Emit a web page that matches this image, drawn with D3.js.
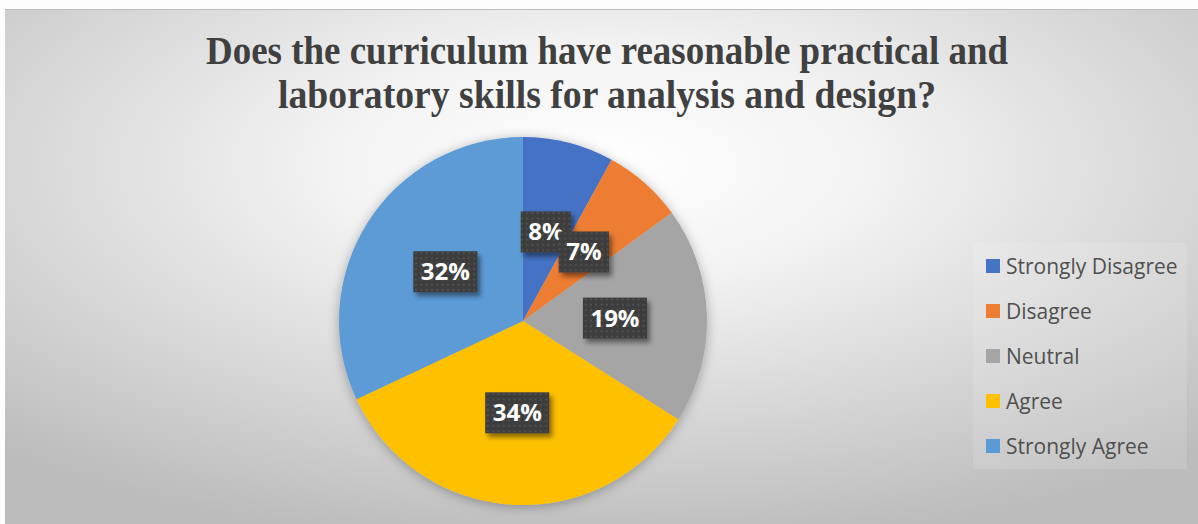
<!DOCTYPE html>
<html>
<head>
<meta charset="utf-8">
<script src="https://cdn.jsdelivr.net/npm/d3@7"></script>
<style>
  html, body { margin: 0; padding: 0; background: #fdfdfd; }
  svg { display: block; }
</style>
</head>
<body>
<svg id="chart" width="1198" height="524"></svg>
<script>
// Survey answers and their shares (percent of respondents)
const categories = ["Strongly Disagree", "Disagree", "Neutral", "Agree", "Strongly Agree"];
const shares = [8, 7, 19, 34, 32];
const sliceColors = ["#4472C4", "#ED7D31", "#A5A5A5", "#FFC000", "#5B9BD5"];
const titleLines = [
  "Does the curriculum have reasonable practical and",
  "laboratory skills for analysis and design?"
];

const W = 1198, H = 524;
const svg = d3.select("#chart");
const defs = svg.append("defs");

// Chart area background: soft radial fade from white to grey
const bg = defs.append("radialGradient")
  .attr("id", "bgGrad")
  .attr("cx", 0.5).attr("cy", 0.3).attr("r", 0.75)
  .attr("fx", 0.5).attr("fy", 0.3);
bg.append("stop").attr("offset", "0").attr("stop-color", "#ffffff");
bg.append("stop").attr("offset", "0.3").attr("stop-color", "#f3f3f3");
bg.append("stop").attr("offset", "1").attr("stop-color", "#bcbcbc");

// Soft halo under the pie
const pieShadow = defs.append("filter").attr("id", "pieShadow")
  .attr("x", "-20%").attr("y", "-20%").attr("width", "140%").attr("height", "140%");
pieShadow.append("feDropShadow")
  .attr("dx", 0).attr("dy", 2).attr("stdDeviation", 6)
  .attr("flood-color", "#000").attr("flood-opacity", 0.3);

// Shadow of the data label boxes
const boxShadow = defs.append("filter").attr("id", "boxShadow")
  .attr("x", "-30%").attr("y", "-30%").attr("width", "170%").attr("height", "170%");
boxShadow.append("feDropShadow")
  .attr("dx", 3).attr("dy", 4).attr("stdDeviation", 2.5)
  .attr("flood-color", "#000").attr("flood-opacity", 0.45);

// Dotted texture of the label boxes
const dots = defs.append("pattern")
  .attr("id", "dots").attr("patternUnits", "userSpaceOnUse")
  .attr("width", 5.3).attr("height", 5.3);
dots.append("rect").attr("width", 5.3).attr("height", 5.3).attr("fill", "#3d3d3d");
dots.append("rect").attr("x", 1.6).attr("y", 1.6).attr("width", 1.8).attr("height", 1.8).attr("fill", "#545454");

// Page strip above the chart frame
svg.append("rect").attr("x", 0).attr("y", 0).attr("width", W).attr("height", 9).attr("fill", "#fdfdfd");
svg.append("rect").attr("x", 5).attr("y", 9).attr("width", W - 5).attr("height", 2).attr("fill", "#bdbdbd");

// Chart area
svg.append("rect")
  .attr("x", 5).attr("y", 10).attr("width", W - 5).attr("height", H - 10)
  .attr("fill", "url(#bgGrad)");

// Title
const title = svg.append("g")
  .attr("font-family", "'Liberation Serif', 'Times New Roman', serif")
  .attr("font-weight", "bold")
  .attr("font-size", 41)
  .attr("fill", "#404040")
  .attr("text-anchor", "middle");
const titleWidths = [802, 658];
title.selectAll("text").data(titleLines).join("text")
  .attr("x", 607)
  .attr("y", (d, i) => 64 + i * 43.5)
  .attr("textLength", (d, i) => titleWidths[i])
  .attr("lengthAdjust", "spacingAndGlyphs")
  .text(d => d);

// Pie
const cx = 523, cy = 321, R = 184;
const pie = d3.pie().sort(null).value(d => d)(shares);
const arc = d3.arc().innerRadius(0).outerRadius(R);
const color = d3.scaleOrdinal().domain(categories).range(sliceColors);

const pieG = svg.append("g").attr("transform", `translate(${cx},${cy})`);
pieG.append("g").attr("filter", "url(#pieShadow)")
  .selectAll("path").data(pie).join("path")
  .attr("d", arc)
  .attr("fill", (d, i) => color(categories[i]));

// Data labels
const labels = pieG.append("g")
  .attr("font-family", "'Open Sans', 'Liberation Sans', sans-serif")
  .attr("font-weight", "bold")
  .attr("font-size", 24);
pie.forEach((d, i) => {
  const [lx, ly] = arc.centroid(d);
  const g = labels.append("g").attr("transform", `translate(${lx},${ly})`);
  const box = g.append("rect").attr("fill", "url(#dots)").attr("filter", "url(#boxShadow)");
  const t = g.append("text")
    .attr("text-anchor", "middle")
    .attr("y", 8.5)
    .attr("fill", "#ffffff")
    .text(shares[i] + "%");
  const tw = t.node().getComputedTextLength();
  const bw = tw + 15, bh = 41;
  box.attr("x", -bw / 2).attr("y", -bh / 2).attr("width", bw).attr("height", bh);
});

// Legend
const legend = svg.append("g");
legend.append("rect")
  .attr("x", 973).attr("y", 243).attr("width", 214).attr("height", 226)
  .attr("fill", "#ffffff").attr("fill-opacity", 0.12);
const rows = legend.selectAll("g.row").data(categories).join("g")
  .attr("class", "row")
  .attr("transform", (d, i) => `translate(986,${266 + i * 45})`);
rows.append("rect")
  .attr("x", 0).attr("y", -7).attr("width", 14).attr("height", 14)
  .attr("fill", d => color(d));
rows.append("text")
  .attr("x", 20).attr("y", 8)
  .attr("font-family", "'Open Sans', 'Liberation Sans', sans-serif")
  .attr("font-size", 21)
  .attr("fill", "#505050")
  .text(d => d);
</script>
</body>
</html>
